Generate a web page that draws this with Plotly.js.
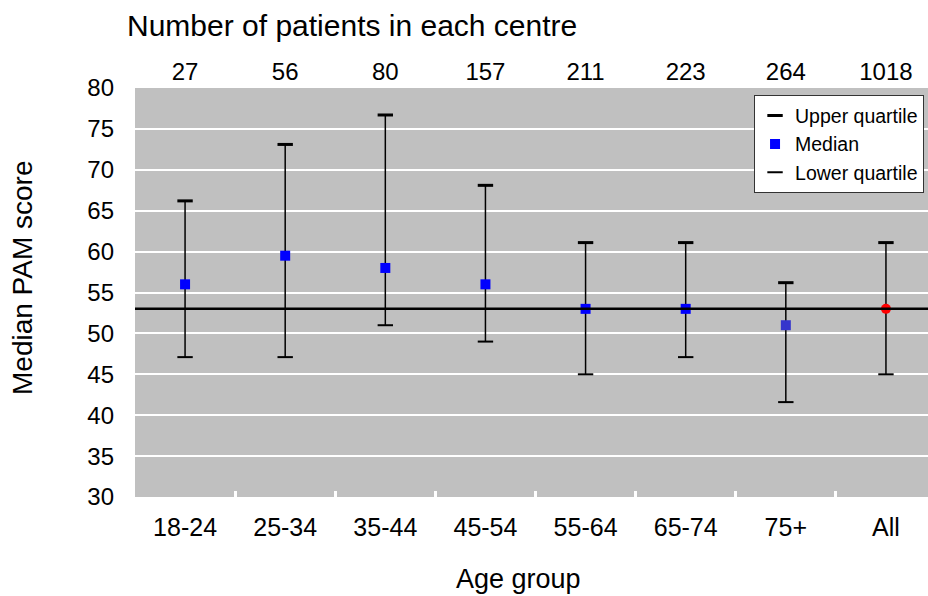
<!DOCTYPE html>
<html>
<head>
<meta charset="utf-8">
<script src="https://cdn.plot.ly/plotly-3.0.1.min.js"></script>
<style>html,body{margin:0;padding:0;background:#fff;}#chart{width:928px;height:596px;}</style>
</head>
<body>
<div id="chart"></div>
<script>
const ageGroups = ['18-24','25-34','35-44','45-54','55-64','65-74','75+','All'];
const patientCounts = ['27','56','80','157','211','223','264','1018'];
const upperQuartile = [66.2, 73.1, 76.7, 68.1, 61.1, 61.1, 56.2, 61.1];
const medianScore = [56, 59.5, 58, 56, 53, 53, 51, 53];
const lowerQuartile = [47.1, 47.1, 51, 49, 45, 47.1, 41.6, 45];
const medianColors = ['#0000ff','#0000ff','#0000ff','#0000ff','#0000ff','#0000ff','#3535cc','#ff0000'];
const medianSymbols = ['square','square','square','square','square','square','square','circle'];
const overallMedian = medianScore[medianScore.length - 1];

const font = 'Liberation Sans, Arial, sans-serif';

const traces = [
  {
    x: ageGroups, y: upperQuartile, type: 'scatter', mode: 'markers', name: 'Upper quartile',
    marker: {symbol: 'line-ew', size: 11, color: '#000', line: {color: '#000', width: 3}},
    hoverinfo: 'skip'
  },
  {
    x: ageGroups, y: medianScore, type: 'scatter', mode: 'markers', name: 'Median',
    marker: {symbol: medianSymbols, size: 10, color: medianColors, line: {width: 0}},
    error_y: {
      type: 'data', symmetric: false,
      array: upperQuartile.map((u, i) => u - medianScore[i]),
      arrayminus: lowerQuartile.map((l, i) => medianScore[i] - l),
      color: '#000', thickness: 1.5, width: 0
    }
  },
  {
    x: ageGroups, y: lowerQuartile, type: 'scatter', mode: 'markers', name: 'Lower quartile',
    marker: {symbol: 'line-ew', size: 11, color: '#000', line: {color: '#000', width: 2}},
    hoverinfo: 'skip'
  },
  {
    x: ageGroups, y: medianScore, xaxis: 'x2', type: 'scatter', mode: 'markers',
    marker: {opacity: 0}, showlegend: false, hoverinfo: 'skip'
  }
];

const xRange = [-0.5, 7.42];

const layout = {
  width: 928, height: 596,
  margin: {l: 135, r: 0, t: 88, b: 99, pad: 0},
  paper_bgcolor: '#ffffff',
  plot_bgcolor: '#c0c0c0',
  font: {family: font, color: '#000'},
  showlegend: true,
  legend: {
    x: 0.995, xanchor: 'right', y: 0.982, yanchor: 'top',
    bgcolor: '#ffffff', bordercolor: '#333333', borderwidth: 1,
    font: {family: font, size: 19.5, color: '#000'},
    itemwidth: 30, tracegroupgap: 0
  },
  xaxis: {
    type: 'category', categoryorder: 'array', categoryarray: ageGroups,
    range: xRange, tickson: 'boundaries', ticks: 'inside', ticklen: 6, tickwidth: 3, tickcolor: '#ffffff',
    showgrid: false, zeroline: false, showline: false,
    tickfont: {family: font, size: 25, color: '#000'},
    ticklabelstandoff: 13,
    automargin: false
  },
  xaxis2: {
    type: 'category', categoryorder: 'array', categoryarray: ageGroups,
    overlaying: 'x', side: 'top', range: xRange,
    tickmode: 'array', tickvals: ageGroups, ticktext: patientCounts,
    ticks: '', showgrid: false, zeroline: false, showline: false,
    tickfont: {family: font, size: 24, color: '#000'},
    ticklabelstandoff: 2,
    automargin: false
  },
  yaxis: {
    range: [30, 80], dtick: 5, tick0: 30,
    showgrid: true, gridcolor: '#ffffff', gridwidth: 2,
    zeroline: false, showline: false, ticks: '',
    tickfont: {family: font, size: 24, color: '#000'},
    ticklabelstandoff: 20,
    automargin: false
  },
  annotations: [
    {text: 'Number of patients in each centre', xref: 'paper', yref: 'paper',
     x: -0.0125, xanchor: 'left', y: 1.153, yanchor: 'middle', showarrow: false,
     font: {family: font, size: 30, color: '#000'}},
    {text: 'Median PAM score', xref: 'paper', yref: 'paper', textangle: -90,
     x: -0.1412, xanchor: 'center', y: 0.5355, yanchor: 'middle', showarrow: false,
     font: {family: font, size: 28, color: '#000'}},
    {text: 'Age group', xref: 'paper', yref: 'paper',
     x: 0.483, xanchor: 'center', y: -0.2, yanchor: 'middle', showarrow: false,
     font: {family: font, size: 27, color: '#000'}}
  ],
  shapes: [
    {type: 'line', xref: 'paper', x0: 0, x1: 1, yref: 'y', y0: overallMedian, y1: overallMedian,
     line: {color: '#000', width: 2.5}, layer: 'above'}
  ]
};

Plotly.newPlot('chart', traces, layout, {displayModeBar: false, staticPlot: true});
</script>
</body>
</html>
